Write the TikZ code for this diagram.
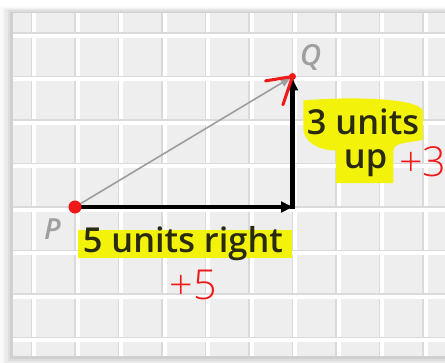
\documentclass[tikz,border=0pt]{standalone}
\usepackage{fontspec}
\usepackage{tikz}
\usepackage{xcolor}
\usetikzlibrary{arrows.meta}
\newfontfamily\labelfont{Open Sans}[UprightFont=* Semibold]
\newfontfamily\penfont{Open Sans}[UprightFont=* Light]
\definecolor{panelgray}{HTML}{EEEEEE}
\definecolor{linegray}{HTML}{DADADA}
\definecolor{marker}{HTML}{F2F20A}
\definecolor{pen}{HTML}{F01818}
\definecolor{ink}{HTML}{2A2A10}

\begin{document}
\begin{tikzpicture}[x=1cm, y=1cm,
  vec/.style={line width=3.2pt, -{Latex[length=9pt,width=8pt]}},
  lbl/.style={ink, font=\labelfont\fontsize{22.5}{25}\selectfont, inner sep=0pt},
  hand/.style={pen, font=\penfont\fontsize{27}{30}\selectfont}]
  \useasboundingbox (-1.724,-3.563) rectangle (8.506,4.759);
  % panel with soft shadow
  \foreach \s/\o in {0.3/0.02, 0.24/0.03, 0.18/0.04, 0.12/0.05, 0.06/0.06} {
    \fill[black, opacity=\o] (-1.425-\s, -3.425-\s) rectangle (8.8, 4.46+\s*0.5);
  }
  \fill[panelgray] (-1.425, -3.425) rectangle (8.8, 4.46);
  \foreach \x in {-1,...,8} {
    \draw[white, line width=2.5pt] (\x+0.06, -3.425) -- (\x+0.06, 4.46);
    \draw[linegray, line width=0.8pt] (\x, -3.425) -- (\x, 4.46);
  }
  \foreach \y in {-3,...,4} {
    \draw[white, line width=2.5pt] (-1.425, \y-0.06) -- (8.8, \y-0.06);
    \draw[linegray, line width=0.8pt] (-1.425, \y) -- (8.8, \y);
  }

  \coordinate (P) at (0,0);
  \coordinate (R) at (5,0);
  \coordinate (Q) at (5,3);

  % vectors
  \draw[gray!75, line width=1.1pt, -{Latex[length=8pt,width=6pt]}] (P) -- (Q);
  \draw[vec, line cap=butt] (P) -- ([xshift=1.6pt]R);
  \draw[vec] ([yshift=-1.6pt]R) -- (Q);

  % highlights
  \fill[marker] (5.25,2.45) .. controls (6.4,2.55) and (7.95,2.5) .. (8.0,2.2)
    -- (8.0,1.55) .. controls (7.6,1.45) and (7.35,1.5) .. (7.32,1.3)
    -- (7.32,0.55) -- (6.0,0.55) -- (6.0,1.3)
    .. controls (5.6,1.3) and (5.25,1.5) .. (5.25,1.8) -- cycle;
  \fill[marker] (0.08,-0.52) rectangle (5.0,-1.17);

  % labels
  \node[lbl] (right) at (2.48,-0.85) {5 units right};
  \node[lbl] (three) at (6.62,1.95) {3 units};
  \node[lbl] (up) at (6.68,1.0) {up};
  \node[gray!75, font=\labelfont\itshape\fontsize{19}{22}\selectfont] (Plabel) at (-0.52,-0.5) {P};
  \node[gray!75, font=\labelfont\itshape\fontsize{19}{22}\selectfont] (Qlabel) at (5.42,3.45) {Q};

  % red pen marks
  \fill[pen] (P) circle (0.15);
  \draw[pen, line width=2pt, line cap=round, line join=round]
    ([shift={(-0.62,-0.1)}]Q) -- (Q) -- ([shift={(-0.22,-0.65)}]Q);
  \fill[pen] (Q) circle (0.08);
  \node[hand] (plus5) at (2.72,-1.8) {+5};
  \node[hand, anchor=west, inner sep=0pt] (plus3) at (7.45,1.05) {+3};
\end{tikzpicture}
\end{document}
